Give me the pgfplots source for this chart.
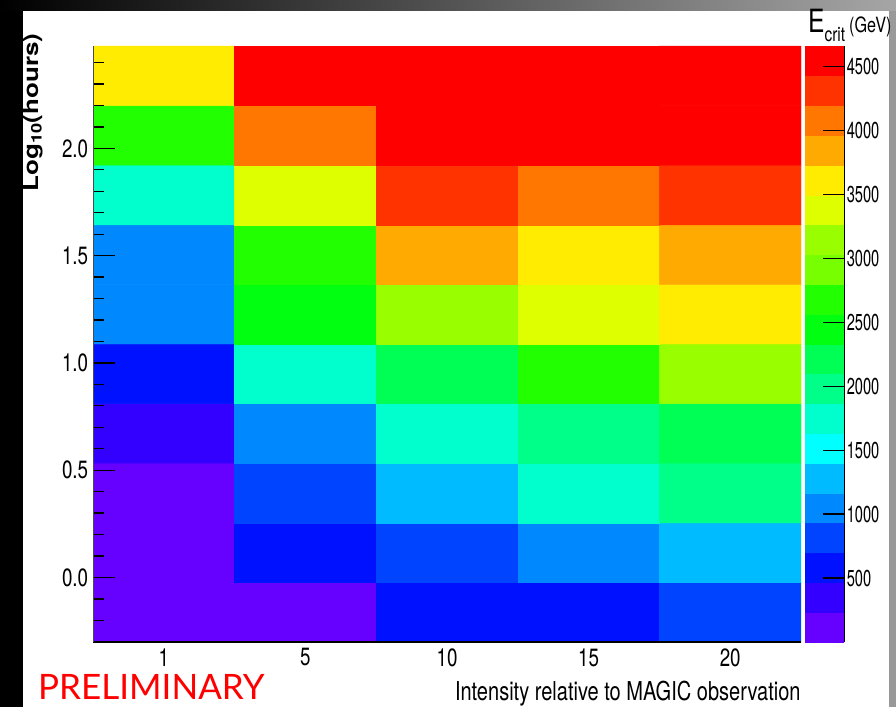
\documentclass[border=0pt]{standalone}
\usepackage{fontspec}
\setmainfont{TeX Gyre Heros}
\newfontfamily\latofont{Lato}
\usepackage{pgfplots}
\usepackage{pgfplotstable}
\pgfplotsset{compat=1.18}

\pgfplotsset{
  colormap={rootpal}{
    rgb255=(102,0,255) rgb255=(51,0,255) rgb255=(0,17,255) rgb255=(0,68,255)
    rgb255=(0,136,255) rgb255=(0,187,255) rgb255=(0,255,255) rgb255=(0,255,204)
    rgb255=(0,255,136) rgb255=(0,255,85) rgb255=(0,255,17) rgb255=(34,255,0)
    rgb255=(119,255,0) rgb255=(153,255,0) rgb255=(221,255,0) rgb255=(255,236,0)
    rgb255=(255,170,0) rgb255=(255,119,0) rgb255=(255,51,0) rgb255=(255,0,0)}
}

% x = intensity column index (1,5,10,15,20), y = log10(hours) bin centre, z = E_crit (GeV)
\pgfplotstableread{
x y z
0 -0.1621 117
1 -0.1621 117
2 -0.1621 583
3 -0.1621 583
4 -0.1621 816
0 0.1157 117
1 0.1157 583
2 0.1157 816
3 0.1157 1049
4 0.1157 1282
0 0.3935 117
1 0.3935 816
2 0.3935 1282
3 0.3935 1748
4 0.3935 1981
0 0.6713 350
1 0.6713 1049
2 0.6713 1748
3 0.6713 1981
4 0.6713 2214
0 0.9491 583
1 0.9491 1748
2 0.9491 2214
3 0.9491 2680
4 0.9491 3146
0 1.2269 1049
1 1.2269 2447
2 1.2269 3146
3 1.2269 3379
4 1.2269 3612
0 1.5047 1049
1 1.5047 2680
2 1.5047 3845
3 1.5047 3612
4 1.5047 3845
0 1.7825 1748
1 1.7825 3379
2 1.7825 4311
3 1.7825 4078
4 1.7825 4311
0 2.0603 2680
1 2.0603 4078
2 2.0603 4544
3 2.0603 4544
4 2.0603 4544
0 2.3381 3612
1 2.3381 4544
2 2.3381 4544
3 2.3381 4544
4 2.3381 4544
}\ecrit

\begin{document}
\begin{tikzpicture}
\useasboundingbox (0pt,0pt) rectangle (896pt,707pt);
\fill[white] (0pt,0pt) rectangle (896pt,707pt);
\fill[black] (0pt,0pt) rectangle (23pt,707pt);
\shade[left color=black, right color=black!35] (0pt,696pt) rectangle (896pt,707pt);
\fill[black!40] (889pt,0pt) rectangle (896pt,696pt);

\begin{axis}[
  at={(93pt,65pt)}, anchor=south west,
  scale only axis, width=708pt, height=596pt,
  xmin=-0.5, xmax=4.5, ymin=-0.30103, ymax=2.47712,
  axis on top,
  axis x line*=bottom, axis y line*=left,
  x axis line style={-, line width=1.6pt, black},
  y axis line style={-, line width=0.8pt, black!70},
  xtick={0,1,2,3,4}, xticklabels={1,5,10,15,20},
  xtick style={draw=none},
  ytick={0,0.5,1,1.5,2},
  minor ytick={-0.2,-0.1,0.1,0.2,0.3,0.4,0.6,0.7,0.8,0.9,1.1,1.2,1.3,1.4,1.6,1.7,1.8,1.9,2.1,2.2,2.3,2.4},
  major tick length=22pt, minor tick length=11pt,
  ytick style={line width=1.3pt, black},
  tick align=inside,
  /pgf/number format/assume math mode=true,
  yticklabel style={/pgf/number format/.cd, fixed, fixed zerofill, precision=1, /tikz/.cd, xshift=-3pt},
  xticklabel style={yshift=-3pt},
  ticklabel style={font=\fontsize{25}{25}\selectfont, xscale=0.75},
  colormap name=rootpal, colormap access=piecewise constant,
  point meta min=0, point meta max=4660,
  colorbar,
  colorbar shift/.style={xshift=3.5pt},
  colorbar style={
    at={(parent axis.north east)}, anchor=north west,
    width=40pt, height=596pt, scale only axis,
    ytick={500,1000,1500,2000,2500,3000,3500,4000,4500},
    scaled y ticks=false,
    ytick pos=right, yticklabel pos=right,
    /pgf/number format/1000 sep={},
    /pgf/number format/assume math mode=true,
    yticklabel style={font=\fontsize{23}{23}\selectfont, xscale=0.85},
    major tick length=22pt, tick align=inside,
    ytick style={line width=1.3pt, black},
    axis line style={draw=none},
    extra description/.code={\draw[line width=1pt, black] (rel axis cs:1,0) -- (rel axis cs:1,1);},
  },
]
\addplot[matrix plot*, mesh/cols=5, point meta=explicit] table[x=x, y=y, meta=z] {\ecrit};
\end{axis}

\node[rotate=90, yscale=0.8, anchor=base east, font=\fontsize{26}{26}\selectfont\bfseries] at (38pt,677pt) {Log\textsubscript{10}(hours)};
\node[anchor=base east, font=\fontsize{26}{26}\selectfont, xscale=0.77, inner sep=0pt] at (800.7pt,7pt) {Intensity relative to MAGIC observation};
\node[anchor=base west, font=\fontsize{35}{35}\selectfont\latofont, text=red, inner sep=0pt] at (38pt,8pt) {PRELIMINARY};
\node[anchor=base west, inner sep=0pt, xscale=0.77] at (808pt,674pt) {\fontsize{32}{32}\selectfont E\raisebox{-9pt}{\fontsize{20}{20}\selectfont crit}\,\fontsize{21}{21}\selectfont(GeV)};
\end{tikzpicture}
\end{document}
